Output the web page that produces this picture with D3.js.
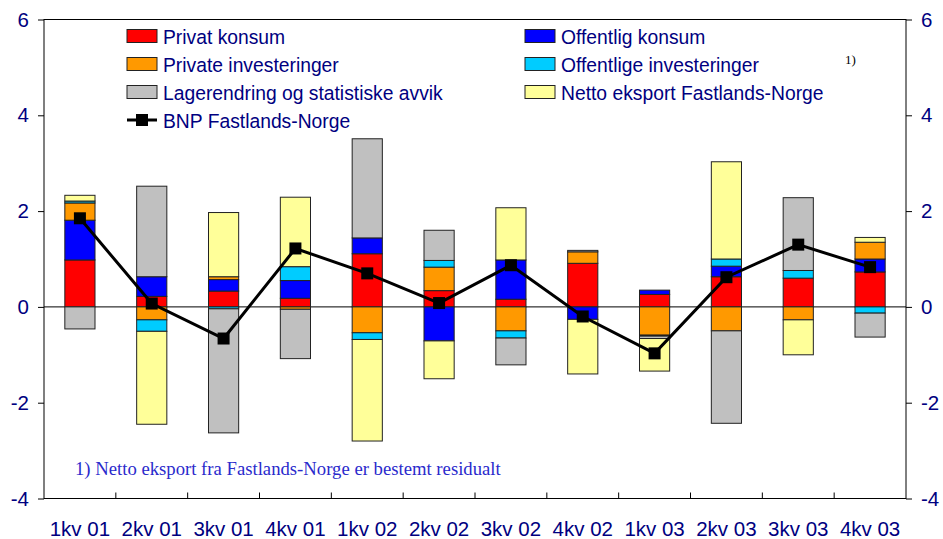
<!DOCTYPE html>
<html>
<head>
<meta charset="utf-8">
<script src="https://cdn.jsdelivr.net/npm/d3@7"></script>
<style>
  body { margin: 0; background: #fff; }
  svg { display: block; font-family: "Liberation Sans", Arial, sans-serif; }
</style>
</head>
<body>
<svg id="chart" width="943" height="539"></svg>
<script>
// data
const quarters = ['1kv 01', '2kv 01', '3kv 01', '4kv 01', '1kv 02', '2kv 02', '3kv 02', '4kv 02', '1kv 03', '2kv 03', '3kv 03', '4kv 03'];
const privatKonsum = [0.98, 0.22, 0.33, 0.18, 1.11, 0.34, 0.16, 0.91, 0.26, 0.63, 0.60, 0.73];
const offentligKonsum = [0.83, 0.41, 0.24, 0.37, 0.33, -0.71, 0.82, -0.26, 0.09, 0.22, 0, 0.27];
const privateInvesteringer = [0.36, -0.27, 0.06, -0.05, -0.54, 0.49, -0.50, 0.24, -0.59, -0.50, -0.27, 0.35];
const offentligeInvesteringer = [0.04, -0.24, -0.04, 0.29, -0.14, 0.14, -0.15, 0, -0.02, 0.15, 0.16, -0.13];
const lagerendring = [-0.46, 1.89, -2.59, -1.03, 2.07, 0.63, -0.56, 0.03, -0.05, -1.93, 1.52, -0.50];
const nettoEksport = [0.12, -1.94, 1.34, 1.45, -2.12, -0.79, 1.09, -1.14, -0.68, 2.03, -0.73, 0.10];
const bnp = [1.85, 0.07, -0.66, 1.22, 0.70, 0.08, 0.87, -0.20, -0.97, 0.62, 1.30, 0.83];
const yTicks = [-4, -2, 0, 2, 4, 6];

const series = [
    { key: 'Privat konsum', values: privatKonsum, color: '#ff0000' },
    { key: 'Offentlig konsum', values: offentligKonsum, color: '#0000ff' },
    { key: 'Private investeringer', values: privateInvesteringer, color: '#ff9900' },
    { key: 'Offentlige investeringer', values: offentligeInvesteringer, color: '#00ccff' },
    { key: 'Lagerendring og statistiske avvik', values: lagerendring, color: '#c0c0c0' },
    { key: 'Netto eksport Fastlands-Norge', values: nettoEksport, color: '#ffff99' }
];

const navy = '#000080';
const svg = d3.select('#chart');
const plotLeft = 44, plotRight = 906, plotTop = 19.5, plotBottom = 498.5;

const x = d3.scaleBand()
    .domain(quarters)
    .range([plotLeft, plotRight])
    .paddingInner(0.58)
    .paddingOuter(0.29);

const y = d3.scaleLinear()
    .domain([-4, 6])
    .range([plotBottom, plotTop]);

// build table for stacking
const table = quarters.map((q, i) => {
    const row = { q };
    series.forEach(s => { row[s.key] = s.values[i]; });
    return row;
});

const stacked = d3.stack()
    .keys(series.map(s => s.key))
    .offset(d3.stackOffsetDiverging)(table);

// zero line
svg.append('line')
    .attr('x1', plotLeft).attr('x2', plotRight)
    .attr('y1', y(0)).attr('y2', y(0))
    .attr('stroke', '#000').attr('stroke-width', 1);

stacked.forEach((layer, li) => {
    svg.append('g')
        .selectAll('rect')
        .data(layer.filter(d => d[1] !== d[0]))
        .enter()
        .append('rect')
        .attr('x', d => x(d.data.q))
        .attr('width', x.bandwidth())
        .attr('y', d => y(Math.max(d[0], d[1])))
        .attr('height', d => Math.abs(y(d[0]) - y(d[1])))
        .attr('fill', series[li].color)
        .attr('stroke', '#222')
        .attr('stroke-width', 1);
});

// BNP line
const line = d3.line()
    .x((d, i) => x(quarters[i]) + x.bandwidth() / 2)
    .y(d => y(d));

svg.append('path')
    .datum(bnp)
    .attr('d', line)
    .attr('fill', 'none')
    .attr('stroke', '#000')
    .attr('stroke-width', 3);

svg.append('g')
    .selectAll('rect')
    .data(bnp)
    .enter()
    .append('rect')
    .attr('x', (d, i) => x(quarters[i]) + x.bandwidth() / 2 - 6)
    .attr('y', d => y(d) - 6)
    .attr('width', 12)
    .attr('height', 12)
    .attr('fill', '#000');

// frame
svg.append('rect')
    .attr('x', plotLeft).attr('y', plotTop)
    .attr('width', plotRight - plotLeft).attr('height', plotBottom - plotTop)
    .attr('fill', 'none')
    .attr('stroke', '#000')
    .attr('stroke-width', 1);

// axes
const fmt = d => String(d);
const yAxisLeft = d3.axisLeft(y).tickValues(yTicks).tickFormat(fmt).tickSize(6).tickPadding(9);
const yAxisRight = d3.axisRight(y).tickValues(yTicks).tickFormat(fmt).tickSize(6).tickPadding(9);

svg.append('g')
    .attr('transform', `translate(${plotLeft},0)`)
    .call(yAxisLeft)
    .call(g => g.select('.domain').remove());

svg.append('g')
    .attr('transform', `translate(${plotRight},0)`)
    .call(yAxisRight)
    .call(g => g.select('.domain').remove());

svg.selectAll('.tick text')
    .attr('fill', navy)
    .attr('font-size', 20.5)
    .attr('font-family', '"Liberation Sans", Arial, sans-serif');

// x category ticks (inside, at band boundaries)
const xStep = x.step();
svg.append('g')
    .selectAll('line')
    .data(quarters.slice(1))
    .enter()
    .append('line')
    .attr('x1', (d, i) => plotLeft + xStep * (i + 1))
    .attr('x2', (d, i) => plotLeft + xStep * (i + 1))
    .attr('y1', plotBottom)
    .attr('y2', plotBottom - 6)
    .attr('stroke', '#000');

svg.append('g')
    .selectAll('text')
    .data(quarters)
    .enter()
    .append('text')
    .attr('x', d => x(d) + x.bandwidth() / 2)
    .attr('y', 536)
    .attr('text-anchor', 'middle')
    .attr('fill', navy)
    .attr('font-size', 20.5)
    .text(d => d);

// legend
const legendItems = [
    { label: series[0].key, color: series[0].color, col: 0, row: 0 },
    { label: series[1].key, color: series[1].color, col: 1, row: 0 },
    { label: series[2].key, color: series[2].color, col: 0, row: 1 },
    { label: series[3].key, color: series[3].color, col: 1, row: 1 },
    { label: series[4].key, color: series[4].color, col: 0, row: 2 },
    { label: series[5].key, color: series[5].color, col: 1, row: 2 },
    { label: 'BNP Fastlands-Norge', line: true, col: 0, row: 3 }
];
const legendX = [127, 525];
const legendY = [36, 64, 92, 120];

const legend = svg.append('g');
legendItems.forEach(item => {
    const lx = legendX[item.col], ly = legendY[item.row];
    if (item.line) {
        legend.append('line')
            .attr('x1', lx).attr('x2', lx + 30)
            .attr('y1', ly).attr('y2', ly)
            .attr('stroke', '#000').attr('stroke-width', 3);
        legend.append('rect')
            .attr('x', lx + 9).attr('y', ly - 6)
            .attr('width', 12).attr('height', 12)
            .attr('fill', '#000');
    } else {
        legend.append('rect')
            .attr('x', lx).attr('y', ly - 6.5)
            .attr('width', 30).attr('height', 13)
            .attr('fill', item.color)
            .attr('stroke', '#222');
    }
    legend.append('text')
        .attr('x', lx + 36)
        .attr('y', ly + 7.5)
        .attr('fill', navy)
        .attr('font-size', 19.3)
        .text(item.label);
});

svg.append('text')
    .attr('x', 845).attr('y', 64)
    .attr('font-family', '"Liberation Serif", "Times New Roman", serif')
    .attr('font-size', 13)
    .attr('fill', '#000')
    .text('1)');

svg.append('text')
    .attr('x', 75).attr('y', 475)
    .attr('font-family', '"Liberation Serif", "Times New Roman", serif')
    .attr('font-size', 18.7)
    .attr('fill', '#2a2acc')
    .text('1) Netto eksport fra Fastlands-Norge er bestemt residualt');
</script>
</body>
</html>
